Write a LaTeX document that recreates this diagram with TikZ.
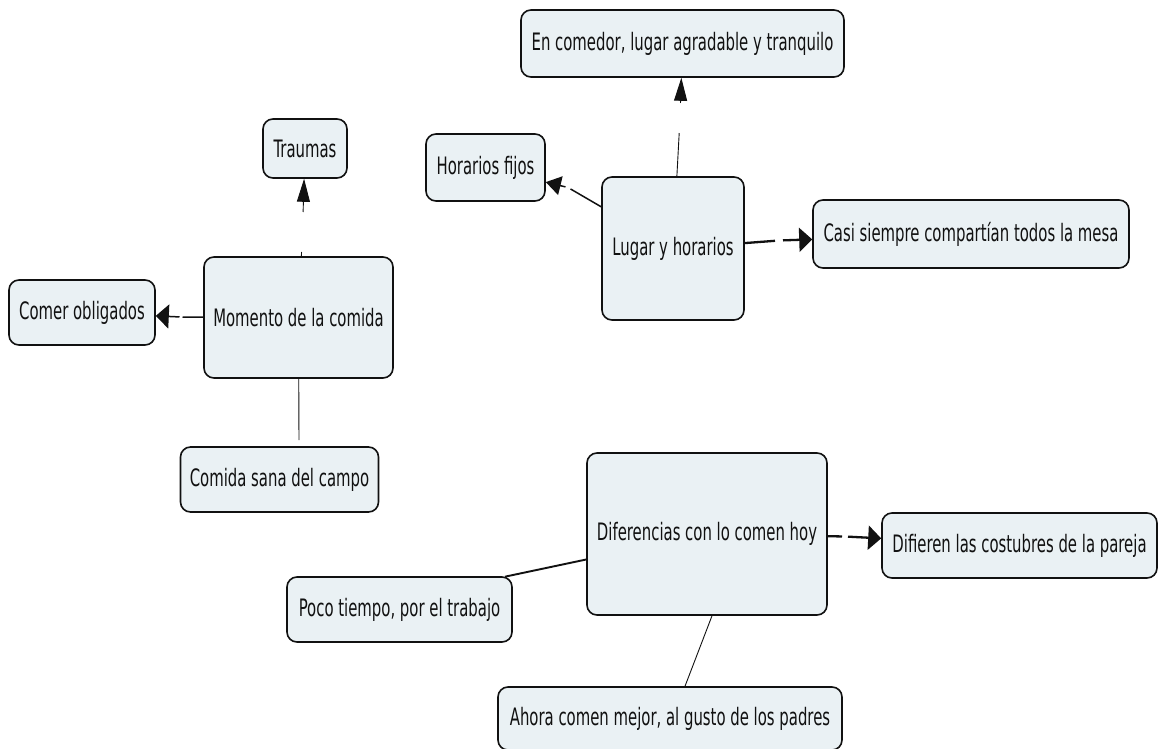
\documentclass[tikz,border=0pt]{standalone}
\usepackage{fontspec}
\setmainfont{DejaVu Sans}[FakeStretch=0.62]
\usetikzlibrary{arrows.meta}
\definecolor{boxfill}{HTML}{EAF1F4}
\definecolor{ink}{HTML}{111111}
\tikzset{
  concept/.style={draw=ink, fill=boxfill, line width=1.6pt, rounded corners=10pt,
    inner sep=0pt, align=center, text=ink, font=\fontsize{24}{28}\selectfont},
  lbl/.style={inner sep=0pt, outer sep=0pt, draw=none},
  link/.style={draw=ink, line width=1.5pt},
  boldlink/.style={draw=ink, line width=2.3pt},
  thinlink/.style={draw=ink, line width=0.9pt},
  varr/.style={-{Triangle[length=23pt,width=13pt]}},
  harr/.style={-{Triangle[length=13pt,width=24pt]}},
  darr/.style={-{Triangle[length=15pt,width=19pt]}}
}
\begin{document}
\begin{tikzpicture}[x=1pt,y=-1pt]
\useasboundingbox (0,0) rectangle (1161,749);
% concepts
\node[concept, minimum width=323pt, minimum height=67pt] (enc) at (682.5,43.5) {En comedor, lugar agradable y tranquilo};
\node[concept, minimum width=119pt, minimum height=67pt] (hor) at (485.5,167.5) {Horarios fijos};
\node[concept, minimum width=142pt, minimum height=143pt] (lug) at (673,248.5) {Lugar y horarios};
\node[concept, minimum width=316pt, minimum height=68pt] (casi) at (971,234) {Casi siempre compartían todos la mesa};
\node[concept, minimum width=84pt, minimum height=59pt] (trau) at (305,148.5) {Traumas};
\node[concept, minimum width=146pt, minimum height=65pt] (comer) at (82,312.5) {Comer obligados};
\node[concept, minimum width=189pt, minimum height=121pt] (mom) at (298.5,317.5) {Momento de la comida};
\node[concept, minimum width=198pt, minimum height=65pt] (sana) at (279.5,479.5) {Comida sana del campo};
\node[concept, minimum width=240pt, minimum height=162pt] (dif) at (707,534) {Diferencias con lo comen hoy};
\node[concept, minimum width=275pt, minimum height=65pt] (difi) at (1019.5,545.5) {Difieren las costubres de la pareja};
\node[concept, minimum width=225pt, minimum height=65pt] (poco) at (399.5,609.5) {Poco tiempo, por el trabajo};
\node[concept, minimum width=344pt, minimum height=63pt] (ahora) at (670,718.5) {Ahora comen mejor, al gusto de los padres};
% empty link labels
\node[lbl, minimum width=4pt, minimum height=30pt] (l1) at (680,118) {};
\node[lbl, minimum width=5pt, minimum height=3pt] (l2) at (568,187.5) {};
\node[lbl, minimum width=8pt, minimum height=4pt] (l3) at (779,240.5) {};
\node[lbl, minimum width=4pt, minimum height=40pt] (l4) at (302.5,232) {};
\node[lbl, minimum width=3pt, minimum height=4pt] (l5) at (181,317) {};
\node[lbl, minimum width=4pt, minimum height=7pt] (l6) at (299,443.5) {};
\node[lbl, minimum width=6pt, minimum height=4pt] (l7) at (845,536.5) {};
\node[lbl, minimum width=3pt, minimum height=3pt] (l8) at (503.5,577) {};
% connectors
\draw[thinlink] (lug) -- (l1);
\draw[thinlink, varr] (l1) -- (enc);
\draw[link] (lug) -- (l2);
\draw[link, darr] (l2) -- (hor);
\draw[boldlink] (lug) -- (l3);
\draw[boldlink, harr] (l3) -- (casi);
\draw[thinlink] (mom) -- (l4);
\draw[thinlink, varr] (l4) -- (trau);
\draw[link] (mom) -- (l5);
\draw[link, harr] (l5) -- (comer);
\draw[thinlink] (mom) -- (l6);
\draw[boldlink] (dif) -- (l7);
\draw[boldlink, harr] (l7) -- (difi);
\draw[link, line width=1.9pt] (dif) -- (l8);
\draw[thinlink] ([xshift=5pt]dif.south) -- ([xshift=15pt]ahora.north);
\end{tikzpicture}
\end{document}
